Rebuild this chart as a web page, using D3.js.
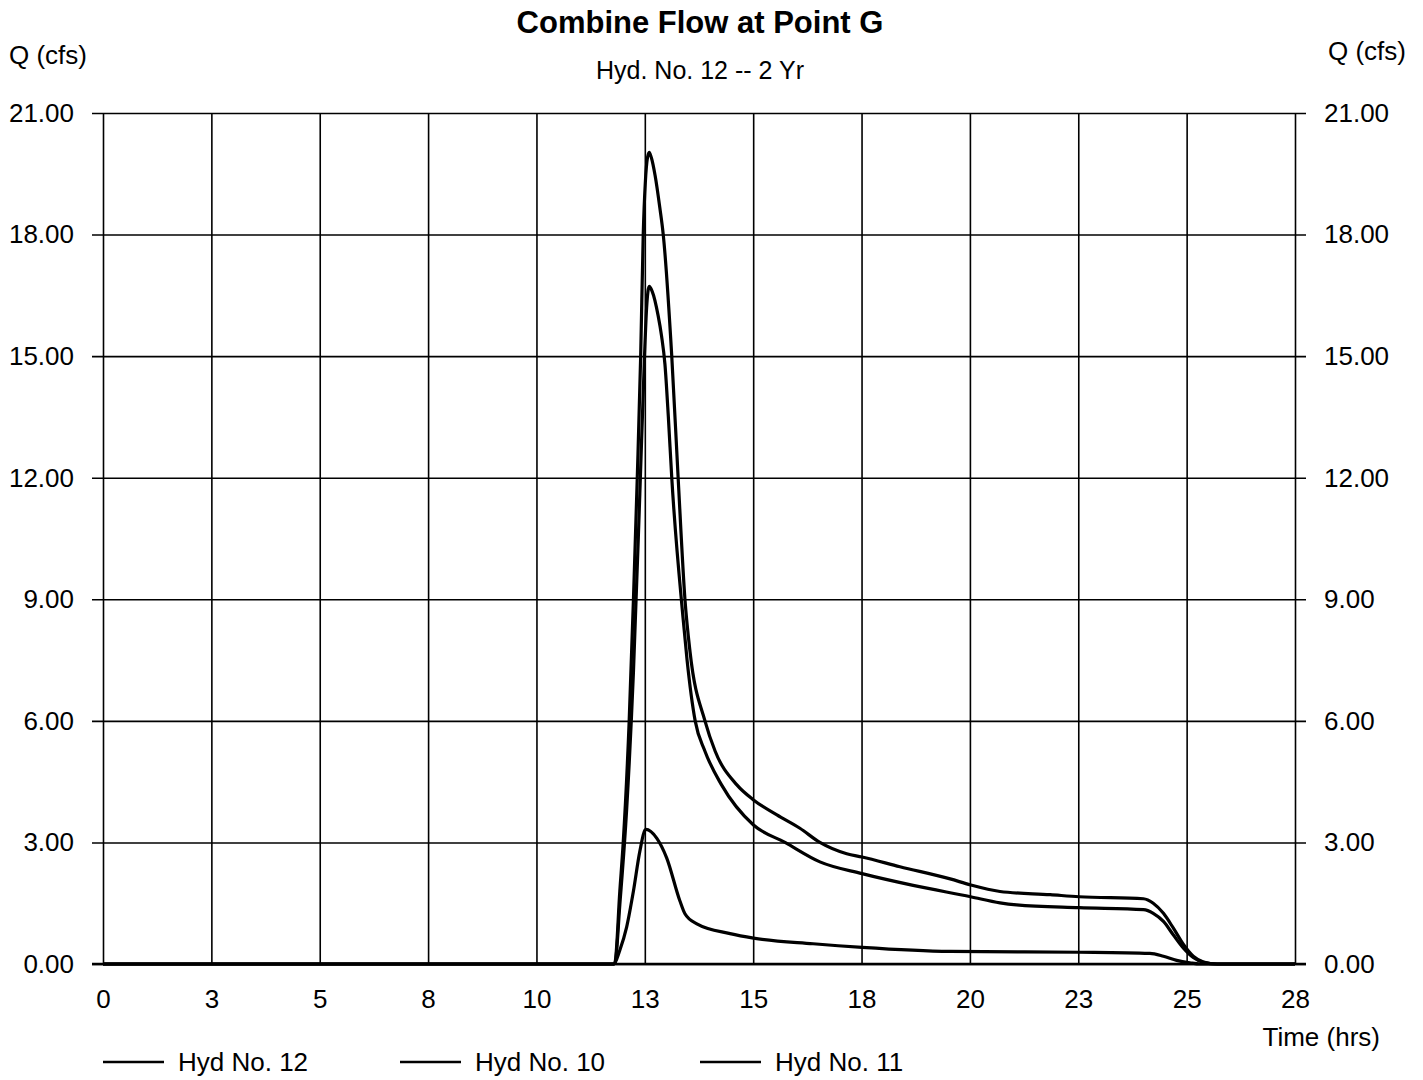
<!DOCTYPE html>
<html lang="en">
<head>
    <meta charset="UTF-8">
    <title>Combine Flow at Point G</title>
    <script src="https://d3js.org/d3.v7.min.js"></script>
    <style>
        body { margin: 0; background: #fff; }
        text { font-family: "Liberation Sans", Arial, sans-serif; fill: #000; }
    </style>
</head>
<body>
<div id="chart"></div>
<script>
    // x tick labels (ticks fall on 28/11 hr steps, labels are rounded)
    var xTickLabels = ["0", "3", "5", "8", "10", "13", "15", "18", "20", "23", "25", "28"];
    var yTicks = [0, 3, 6, 9, 12, 15, 18, 21];

    // Hyd No. 12 (combined)
    var hyd12Time = [0, 12.0, 12.03, 12.14, 12.22, 12.36, 12.46, 12.55, 12.63, 12.69, 12.74, 12.79, 12.83, 12.88, 12.97, 13.08, 13.16, 13.36, 13.51, 13.67, 13.79, 14.14, 14.38, 14.89, 15.28, 15.83, 16.37, 16.84, 17.47, 17.83, 18.72, 19.90, 20.38, 21.07, 22.25, 22.93, 24.44, 24.67, 24.91, 25.14, 25.38, 25.61, 25.85, 26.17, 28];
    var hyd12Q    = [0, 0, 0.05, 1.8, 3.0, 6.0, 9.0, 12.0, 15.0, 18.0, 19.3, 19.9, 20.03, 19.9, 19.45, 18.66, 18.0, 15.0, 12.0, 9.0, 7.7, 6.0, 5.25, 4.42, 4.05, 3.68, 3.35, 3.0, 2.72, 2.64, 2.4, 2.1, 1.95, 1.79, 1.71, 1.66, 1.61, 1.5, 1.25, 0.89, 0.48, 0.19, 0.05, 0, 0];

    // Hyd No. 10
    var hyd10Time = [0, 12.0, 12.03, 12.14, 12.30, 12.46, 12.61, 12.72, 12.77, 12.83, 12.90, 13.04, 13.12, 13.20, 13.28, 13.36, 13.62, 13.72, 13.91, 14.14, 14.53, 15.28, 16.02, 16.84, 17.83, 19.03, 20.38, 21.07, 21.46, 22.93, 24.44, 24.67, 24.91, 25.14, 25.38, 25.61, 25.85, 26.17, 28];
    var hyd10Q    = [0, 0, 0.03, 1.46, 3.8, 7.2, 11.6, 15.0, 16.2, 16.72, 16.6, 16.0, 15.5, 14.8, 13.5, 12.0, 8.6, 7.5, 6.0, 5.25, 4.42, 3.43, 3.0, 2.52, 2.23, 1.94, 1.66, 1.51, 1.46, 1.39, 1.34, 1.25, 1.05, 0.72, 0.39, 0.16, 0.04, 0, 0];

    // Hyd No. 11
    var hyd11Time = [0, 12.0, 12.14, 12.30, 12.46, 12.61, 12.75, 13.01, 13.24, 13.55, 13.67, 13.95, 14.73, 15.28, 16.68, 17.83, 19.90, 22.93, 24.59, 24.91, 25.22, 25.53, 25.77, 28];
    var hyd11Q    = [0, 0, 0.34, 0.91, 1.8, 2.78, 3.32, 3.1, 2.62, 1.56, 1.24, 0.99, 0.75, 0.64, 0.5, 0.41, 0.31, 0.29, 0.26, 0.19, 0.09, 0.03, 0, 0];

    var seriesNames = ["Hyd No. 12", "Hyd No. 10", "Hyd No. 11"];

    var W = 1423, H = 1080;
    var margin = {top: 113, right: 128, bottom: 116, left: 103},
        width = W - margin.left - margin.right,
        height = H - margin.top - margin.bottom;

    var svg = d3.select("#chart")
        .append("svg")
        .attr("width", W)
        .attr("height", H);

    var g = svg.append("g")
        .attr("transform", "translate(" + margin.left + "," + margin.top + ")");

    var x = d3.scaleLinear().domain([0, 28]).range([0, width]);
    var y = d3.scaleLinear().domain([0, 21]).range([height, 0]);

    var xTickVals = xTickLabels.map(function(d, i) { return i * 28 / (xTickLabels.length - 1); });

    // horizontal grid + left labels (lines run 11px past both sides)
    var leftAxis = g.append("g")
        .attr("transform", "translate(-11,0)")
        .call(d3.axisLeft(y).tickValues(yTicks).tickFormat(d3.format(".2f"))
            .tickSizeInner(-(width + 22)).tickSizeOuter(0).tickPadding(18));
    leftAxis.select(".domain").remove();

    var rightAxis = g.append("g")
        .attr("transform", "translate(" + (width + 11) + ",0)")
        .call(d3.axisRight(y).tickValues(yTicks).tickFormat(d3.format(".2f"))
            .tickSize(0).tickPadding(18));
    rightAxis.select(".domain").remove();

    // vertical grid + bottom labels
    var bottomAxis = g.append("g")
        .attr("transform", "translate(0," + height + ")")
        .call(d3.axisBottom(x).tickValues(xTickVals)
            .tickFormat(function(d, i) { return xTickLabels[i]; })
            .tickSizeInner(-height).tickSizeOuter(0).tickPadding(26));
    bottomAxis.select(".domain").remove();

    svg.selectAll(".tick line").attr("stroke", "#000").attr("stroke-width", 1.6);
    svg.selectAll(".tick text").style("font-size", "26px").attr("fill", "#000");

    // bottom axis line a bit heavier
    g.append("line")
        .attr("x1", -11).attr("x2", width + 11)
        .attr("y1", y(0)).attr("y2", y(0))
        .attr("stroke", "#000").attr("stroke-width", 2.5);

    // lines
    var line = d3.line()
        .x(function(d) { return x(d[0]); })
        .y(function(d) { return y(d[1]); })
        .curve(d3.curveMonotoneX);

    var series = [
        d3.zip(hyd12Time, hyd12Q),
        d3.zip(hyd10Time, hyd10Q),
        d3.zip(hyd11Time, hyd11Q)
    ];

    g.selectAll(".hyd")
        .data(series)
        .enter().append("path")
        .attr("class", "hyd")
        .attr("fill", "none")
        .attr("stroke", "#000")
        .attr("stroke-width", 3.2)
        .attr("stroke-linejoin", "round")
        .attr("d", line);

    // titles
    svg.append("text")
        .attr("x", 700).attr("y", 33)
        .attr("text-anchor", "middle")
        .style("font-size", "31px").style("font-weight", "bold")
        .text("Combine Flow at Point G");

    svg.append("text")
        .attr("x", 700).attr("y", 79)
        .attr("text-anchor", "middle")
        .style("font-size", "25px")
        .text("Hyd. No. 12 -- 2 Yr");

    svg.append("text")
        .attr("x", 9).attr("y", 64)
        .style("font-size", "26px")
        .text("Q (cfs)");

    svg.append("text")
        .attr("x", 1406).attr("y", 60)
        .attr("text-anchor", "end")
        .style("font-size", "26px")
        .text("Q (cfs)");

    svg.append("text")
        .attr("x", 1380).attr("y", 1046)
        .attr("text-anchor", "end")
        .style("font-size", "26px")
        .text("Time (hrs)");

    // legend
    var legendX = [103, 400, 700];
    var leg = svg.selectAll(".legend")
        .data(seriesNames)
        .enter().append("g")
        .attr("class", "legend")
        .attr("transform", function(d, i) { return "translate(" + legendX[i] + ",1062)"; });

    leg.append("line")
        .attr("x1", 0).attr("x2", 61)
        .attr("stroke", "#000").attr("stroke-width", 2.5);

    leg.append("text")
        .attr("x", 75).attr("y", 9)
        .style("font-size", "26px")
        .text(function(d) { return d; });
</script>
</body>
</html>
